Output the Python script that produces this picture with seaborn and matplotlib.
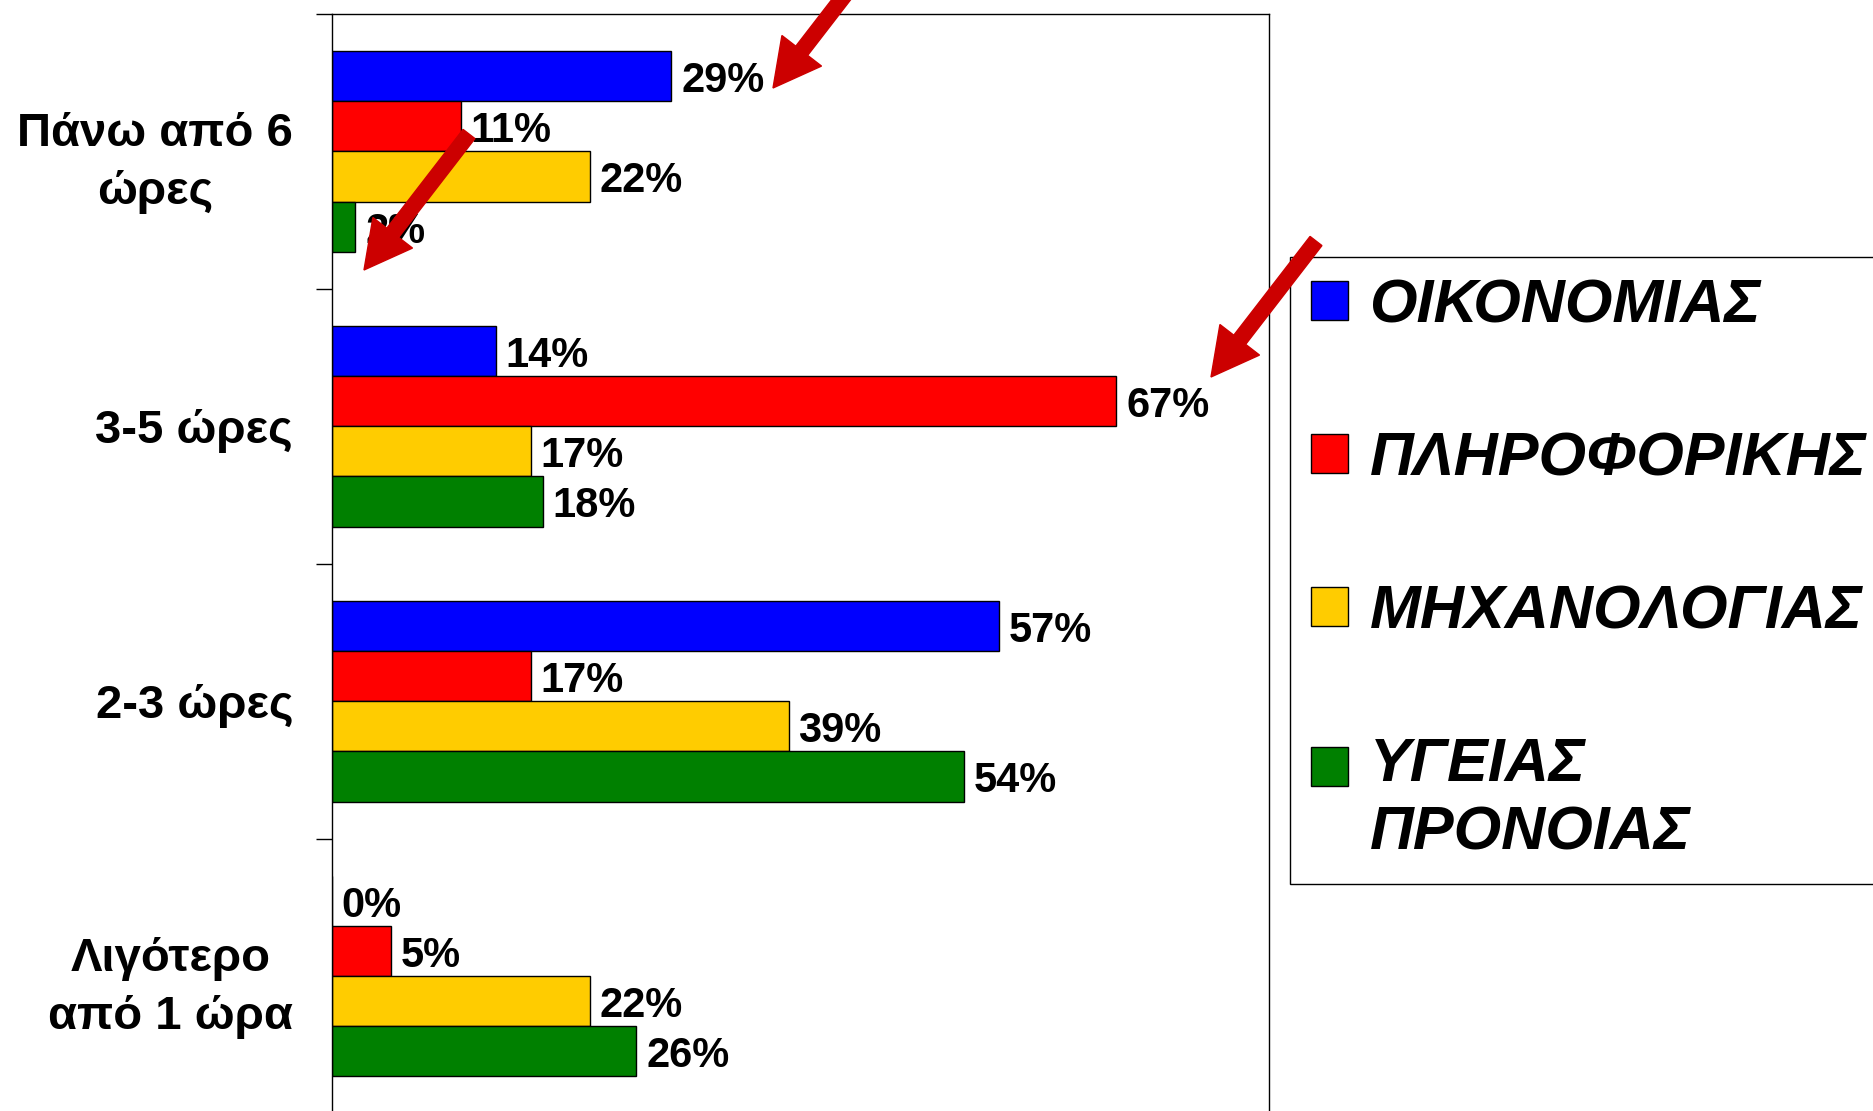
import pandas as pd
import matplotlib
matplotlib.use('Agg')
import matplotlib.pyplot as plt
import seaborn as sns
from matplotlib.patches import Patch, FancyArrow, Rectangle
from matplotlib.legend_handler import HandlerPatch
from matplotlib.transforms import IdentityTransform

# data
categories = ['Πάνω από 6\nώρες', '3-5 ώρες', '2-3 ώρες', 'Λιγότερο\nαπό 1 ώρα']
departments = ['ΟΙΚΟΝΟΜΙΑΣ', 'ΠΛΗΡΟΦΟΡΙΚΗΣ', 'ΜΗΧΑΝΟΛΟΓΙΑΣ', 'ΥΓΕΙΑΣ\nΠΡΟΝΟΙΑΣ']
oikonomias = [29, 14, 57, 0]
pliroforikis = [11, 67, 17, 5]
mixanologias = [22, 17, 39, 22]
ygeias = [2, 18, 54, 26]
colors = ['#0000FF', '#FF0000', '#FFCC00', '#008000']

rows = []
for dep, vals in zip(departments, [oikonomias, pliroforikis, mixanologias, ygeias]):
    for cat, v in zip(categories, vals):
        rows.append({'cat': cat, 'dep': dep, 'val': v})
df = pd.DataFrame(rows)

sns.set_style('white')
plt.rcParams['font.family'] = ['Liberation Sans', 'DejaVu Sans']
plt.rcParams['text.color'] = 'black'
plt.rcParams['ytick.color'] = 'black'
plt.rcParams['axes.labelcolor'] = 'black'

fig = plt.figure(figsize=(18.73, 11.11), dpi=100)
ax = fig.add_axes([332 / 1873, -2.5 / 1111, 936.5 / 1873, 1099.5 / 1111])

sns.barplot(data=df, y='cat', x='val', hue='dep', order=categories, hue_order=departments,
            palette=colors, orient='h', width=0.73, edgecolor='black', linewidth=1.0,
            saturation=1, legend=False, ax=ax)

for cont in ax.containers:
    texts = ax.bar_label(cont, fmt='%.0f%%', padding=7, fontsize=30, fontweight='bold', color='black')
    for t in texts:
        t.xyann = (7, -3.5)

ax.set_xlim(0, 80)
ax.set_ylim(3.5, -0.5)
ax.set_xticks([])
ax.set_xlabel('')
ax.set_ylabel('')
ax.set_yticks(range(len(categories)))
ax.set_yticklabels(categories, fontsize=34, fontweight='bold', multialignment='center',
                   linespacing=1.4, color='black')
ax.set_yticks([-0.5, 0.5, 1.5, 2.5, 3.5], minor=True)
ax.tick_params(axis='y', which='major', length=0, pad=28)
ax.tick_params(axis='y', which='minor', length=11.5, width=1.0, color='black', direction='out', left=True)
for sp in ax.spines.values():
    sp.set_visible(True)
    sp.set_color('black')
    sp.set_linewidth(1.0)


def first_line_square(legend, orig_handle, xdescent, ydescent, width, height, fontsize):
    # put the square next to the first line of a two-line label
    return Rectangle((-xdescent, -ydescent + 24), width, height)


handles = [Patch(facecolor=c, edgecolor='black', linewidth=1.0) for c in colors]
leg = ax.legend(handles, departments, loc='upper left',
                bbox_to_anchor=(1290 / 1873, 1 - 257 / 1111), bbox_transform=fig.transFigure,
                prop={'family': 'Liberation Sans', 'weight': 'bold', 'style': 'italic', 'size': 44},
                frameon=True, fancybox=False, edgecolor='black', framealpha=1,
                borderaxespad=0, borderpad=0.35, handlelength=0.6, handleheight=0.6,
                handletextpad=0.35, labelspacing=1.57,
                handler_map={handles[3]: HandlerPatch(patch_func=first_line_square)})
leg.get_frame().set_linewidth(1.0)
for t in leg.get_texts():
    t.set_linespacing(1.25)
    t.set_color('black')

# red arrows (image pixel coords of the tips)
arrow_tips = [(773, 88), (364, 270), (1211, 377)]
for tx, ty in arrow_tips:
    fig.add_artist(FancyArrow(tx + 105, 1111 - (ty - 136), -105, -136, width=15,
                              head_width=50, head_length=47, length_includes_head=True,
                              color='#CC0000', transform=IdentityTransform(), zorder=10))

fig.savefig('out.png', dpi=100)
